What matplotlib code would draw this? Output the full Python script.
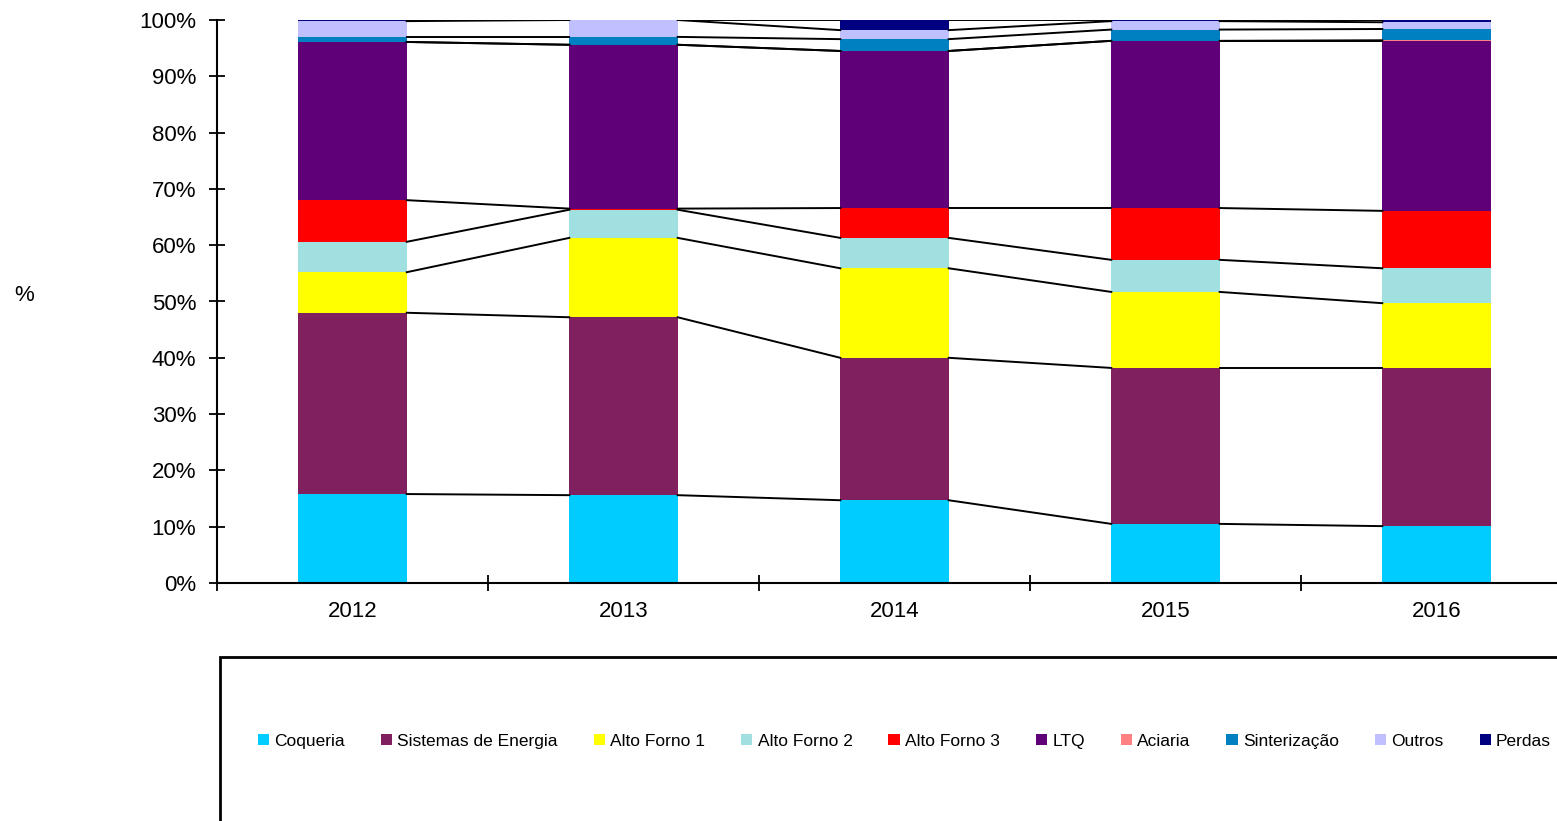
import numpy as np
import matplotlib
matplotlib.use("Agg")
import matplotlib.pyplot as plt
from matplotlib.patches import Rectangle

plt.rcParams['font.family'] = ['Liberation Sans', 'DejaVu Sans']

years = ['2012', '2013', '2014', '2015', '2016']

# share of each area (%) per year
coqueria = [15.8, 15.6, 14.7, 10.5, 10.1]
sistemas_energia = [32.2, 31.6, 25.3, 27.7, 28.1]
alto_forno_1 = [7.2, 14.1, 15.9, 13.5, 11.5]
alto_forno_2 = [5.4, 5.0, 5.4, 5.7, 6.2]
alto_forno_3 = [7.4, 0.2, 5.3, 9.2, 10.2]
ltq = [28.1, 29.1, 27.9, 29.7, 30.2]
aciaria = [0.0, 0.0, 0.0, 0.0, 0.1]
sinterizacao = [0.9, 1.4, 2.1, 2.0, 2.0]
outros = [2.8, 3.0, 1.6, 1.5, 1.2]
perdas = [0.2, 0.0, 1.8, 0.2, 0.4]

series_names = ['Coqueria', 'Sistemas de Energia', 'Alto Forno 1', 'Alto Forno 2',
                'Alto Forno 3', 'LTQ', 'Aciaria', 'Sinterização', 'Outros', 'Perdas']
series_values = [coqueria, sistemas_energia, alto_forno_1, alto_forno_2, alto_forno_3,
                 ltq, aciaria, sinterizacao, outros, perdas]
colors = ['#00CCFF', '#80205F', '#FFFF00', '#A0E0E0', '#FF0000',
          '#600078', '#FF8080', '#0080C0', '#C0C0FF', '#000080']


def main():
    fig = plt.figure(figsize=(15.57, 8.21), dpi=100)
    ax = fig.add_axes([217 / 1557, 238 / 821, 1355 / 1557, 563 / 821])

    x = np.arange(len(years))
    width = 0.4
    data = np.array(series_values, dtype=float)
    totals = data.sum(axis=0)
    pct = data / totals * 100
    bottom = np.zeros(len(years))
    handles = []
    for name, vals, col in zip(series_names, pct, colors):
        h = ax.bar(x, vals, width, bottom=bottom, color=col, label=name, zorder=2)
        handles.append(h)
        top = bottom + vals
        # series lines between the bars
        for j in range(len(years) - 1):
            ax.plot([x[j] + width / 2, x[j + 1] - width / 2], [top[j], top[j + 1]],
                    color='black', lw=1.4, zorder=3)
        bottom = top

    ax.set_xlim(-0.5, len(years) - 0.5)
    ax.set_ylim(0, 100)
    ax.set_yticks(np.arange(0, 101, 10))
    ax.set_yticklabels([f'{v}%' for v in range(0, 101, 10)], fontsize=16)
    ax.set_xticks(np.arange(-0.5, len(years), 1))
    ax.set_xticklabels([])
    ax.set_xticks(x, minor=True)
    ax.set_xticklabels(years, minor=True, fontsize=16)
    ax.tick_params(axis='x', which='minor', length=0, pad=13)
    ax.tick_params(axis='x', which='major', direction='inout', length=12, width=1.3)
    ax.tick_params(axis='y', direction='inout', length=12, width=1.3, pad=9)
    for s in ['top', 'right']:
        ax.spines[s].set_visible(False)
    ax.spines['left'].set_linewidth(1.5)
    ax.spines['bottom'].set_linewidth(1.5)

    fig.text(24 / 1557, 1 - 295 / 821, '%', fontsize=16, ha='center', va='center')

    # legend box
    fig.patches.append(Rectangle((220 / 1557, -0.05), 1.0, (821 - 657) / 821 + 0.05,
                                 transform=fig.transFigure, fill=False,
                                 edgecolor='black', lw=2))
    fig.legend(handles, series_names, loc='center left',
               bbox_to_anchor=(242 / 1557, 1 - 741 / 821), ncol=10, frameon=False,
               fontsize=12.5, handlelength=0.65, handleheight=0.65, handletextpad=0.3,
               columnspacing=2.07)

    fig.savefig('out.png', dpi=100)


if __name__ == "__main__":
    main()
